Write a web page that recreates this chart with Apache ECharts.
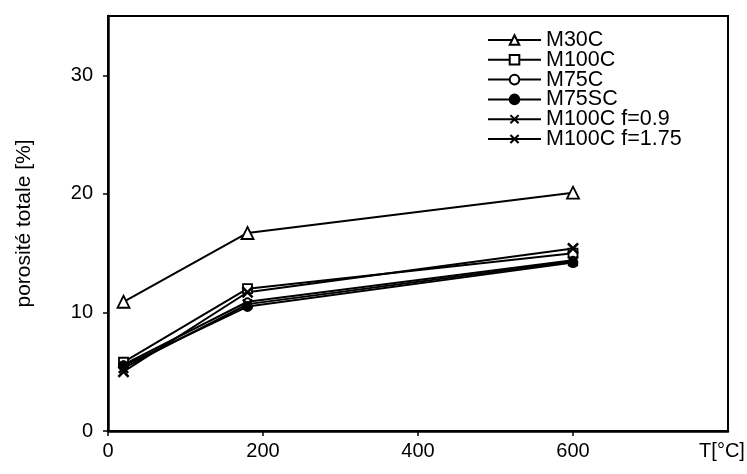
<!DOCTYPE html>
<html>
<head>
<meta charset="utf-8">
<script src="https://cdn.jsdelivr.net/npm/echarts@6/dist/echarts.min.js"></script>
<style>
  html, body { margin: 0; padding: 0; background: #fff; }
  #chart { width: 747px; height: 474px; }
</style>
</head>
<body>
<div id="chart"></div>
<script>
// Temperatures (°C) at which total porosity was measured
const temperatures = [20, 180, 600];

// Total porosity [%] per mix
const seriesNames = ['M30C', 'M100C', 'M75C', 'M75SC', 'M100C f=0.9', 'M100C f=1.75'];
const m30c = [10.9, 16.7, 20.1];
const m100c = [5.8, 12.0, 15.0];
const m75c = [5.6, 10.9, 14.4];
const m75sc = [5.5, 10.5, 14.2];
const m100cF09 = [5.0, 11.7, 15.4];
const m100cF175 = [5.3, 10.7, 14.3];

const xTicks = [0, 200, 400, 600];
const yTicks = [0, 10, 20, 30];

const FONT = '"Liberation Sans", Arial, sans-serif';
const crossPath = 'path://M0,1.5L1.5,0L5,3.5L8.5,0L10,1.5L6.5,5L10,8.5L8.5,10L5,6.5L1.5,10L0,8.5L3.5,5Z';

function pairs(values) {
  return temperatures.map((t, i) => [t, values[i]]);
}

function makeSeries(name, values, symbol, size, filled) {
  return {
    name: name,
    type: 'line',
    data: pairs(values),
    symbol: symbol,
    symbolSize: size,
    showAllSymbol: true,
    lineStyle: { color: '#000', width: 2 },
    itemStyle: {
      color: filled ? '#000' : '#fff',
      borderColor: '#000',
      borderWidth: symbol === crossPath ? 0 : 1.8
    },
    emphasis: { disabled: true },
    animation: false
  };
}

const series = [
  makeSeries(seriesNames[0], m30c, 'triangle', 12, false),
  makeSeries(seriesNames[1], m100c, 'rect', 9, false),
  makeSeries(seriesNames[2], m75c, 'circle', 7, false),
  makeSeries(seriesNames[3], m75sc, 'circle', 9, true),
  makeSeries(seriesNames[4], m100cF09, crossPath, 12, true),
  makeSeries(seriesNames[5], m100cF175, crossPath, 11, true)
];

const chart = echarts.init(document.getElementById('chart'), null, { renderer: 'canvas' });
chart.setOption({
  backgroundColor: '#fff',
  animation: false,
  grid: {
    left: 108, right: 19, top: 16, bottom: 43,
    show: true, borderColor: '#000', borderWidth: 2,
    containLabel: false,
    outerBoundsMode: 'none'
  },
  legend: {
    orient: 'vertical',
    left: 487, top: 29,
    padding: 0,
    itemWidth: 53, itemHeight: 12,
    itemGap: -2.2,
    textStyle: { fontFamily: FONT, fontSize: 21.5, color: '#000' },
    data: seriesNames
  },
  xAxis: {
    type: 'value',
    min: 0, max: 800, interval: 200,
    axisLine: { show: true, lineStyle: { color: '#000', width: 2.5 } },
    axisTick: { show: true, inside: false, length: 5, lineStyle: { color: '#000', width: 1.5 }, customValues: xTicks },
    splitLine: { show: false },
    axisLabel: {
      customValues: xTicks.concat([800]),
      formatter: v => (v === 800 ? '{unit|T[°C]}' : String(v)),
      fontFamily: FONT, fontSize: 20, color: '#000', margin: 10,
      rich: {
        unit: { fontFamily: FONT, fontSize: 20, color: '#000', padding: [0, 12, 0, 0] }
      }
    }
  },
  yAxis: {
    type: 'value',
    min: 0, max: 35, interval: 10,
    name: 'porosité totale [%]',
    nameLocation: 'middle',
    nameGap: 73,
    nameRotate: 90,
    nameTextStyle: { fontFamily: FONT, fontSize: 21, color: '#000' },
    axisLine: { show: true, lineStyle: { color: '#000', width: 2.5 } },
    axisTick: { show: true, inside: false, length: 5, lineStyle: { color: '#000', width: 1.5 }, customValues: yTicks },
    splitLine: { show: false },
    axisLabel: {
      customValues: yTicks,
      fontFamily: FONT, fontSize: 20, color: '#000', margin: 15
    }
  },
  series: series
});
</script>
</body>
</html>
